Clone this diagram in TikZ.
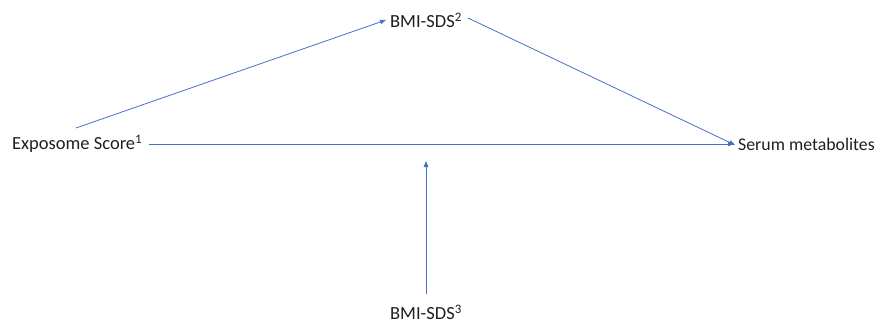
\documentclass[tikz,border=0pt]{standalone}
\usepackage{fontspec}
\setmainfont{Carlito}
\usetikzlibrary{arrows.meta}
\definecolor{arrowblue}{HTML}{4472C4}
\definecolor{txt}{HTML}{1F1F1F}
\begin{document}
\begin{tikzpicture}[x=1pt,y=-1pt,
  lbl/.style={inner sep=0pt,font=\fontsize{18.5}{22}\selectfont,text=txt},
  conn/.style={draw=arrowblue,line width=0.8pt,-{Triangle[length=6pt,width=4.5pt]}}]
\useasboundingbox (0,0) rectangle (875,326);
\node[lbl,anchor=west] (expo) at (12,144) {Exposome Score\textsuperscript{1}};
\node[lbl,anchor=west,font=\fontsize{17.8}{22}\selectfont] (serum) at (738,144) {Serum metabolites};
\node[lbl] (bmitop) at (426,20) {BMI-SDS\textsuperscript{2}};
\node[lbl] (bmibot) at (426,312) {BMI-SDS\textsuperscript{3}};
\coordinate (expoup) at (76,128);
\coordinate (mid) at (426,161);
\draw[conn] (expoup) -- ([xshift=-4pt]bmitop.west);
\draw[conn] ([xshift=6pt,yshift=2pt]bmitop.east) -- ([xshift=-3pt,yshift=-1pt]serum.west);
\draw[conn] ([xshift=7pt]expo.east) -- ([xshift=-4pt]serum.west);
\draw[conn] ([yshift=10pt]bmibot.north) -- (mid);
\end{tikzpicture}
\end{document}
